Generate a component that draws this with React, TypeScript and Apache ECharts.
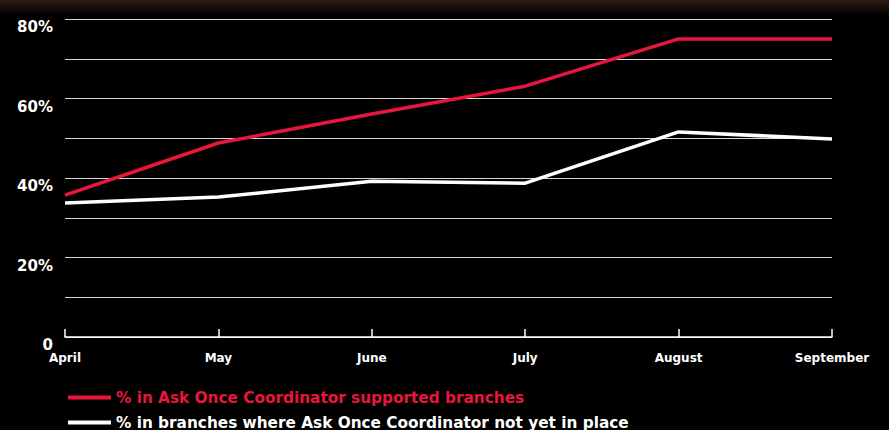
import React, { useEffect, useRef } from "react";
import * as echarts from "echarts";

const months = ["April", "May", "June", "July", "August", "September"];
const supported = [35.7, 48.8, 56.1, 63.1, 75.0, 75.0];
const notInPlace = [33.7, 35.2, 39.2, 38.7, 51.6, 49.8];
const seriesNames = [
  "% in Ask Once Coordinator supported branches",
  "% in branches where Ask Once Coordinator not yet in place",
];
const RED = "#e8163c";
const WHITE = "#ffffff";
const FONT = "DejaVu Sans";

export default function App() {
  const ref = useRef<HTMLDivElement>(null);
  useEffect(() => {
    const chart = echarts.init(ref.current!, null, { renderer: "svg" });
    const legendBase = {
      orient: "horizontal",
      left: 63,
      itemWidth: 43,
      itemHeight: 4,
      itemGap: 10,
      icon: "rect",
    };
    chart.setOption({
      animation: false,
      backgroundColor: "#000000",
      graphic: [
        {
          type: "rect",
          left: 0,
          top: 0,
          shape: { width: 889, height: 16 },
          style: {
            fill: {
              type: "linear",
              x: 0, y: 0, x2: 0, y2: 1,
              colorStops: [
                { offset: 0, color: "#2e1a14" },
                { offset: 1, color: "#000000" },
              ],
            },
          },
          z: -1,
        },
      ],
      grid: { left: 65, right: 57, top: 19, bottom: 93, containLabel: false },
      xAxis: {
        type: "category",
        data: months,
        boundaryGap: false,
        axisLine: { lineStyle: { color: "#ffffff", width: 1.5 } },
        axisTick: { inside: true, length: 8, lineStyle: { color: "#ffffff", width: 1.5 } },
        axisLabel: {
          color: "#ffffff",
          fontFamily: FONT,
          fontWeight: "bold",
          fontSize: 12,
          margin: 15,
        },
        splitLine: { show: false },
      },
      yAxis: {
        type: "value",
        min: 0,
        max: 80,
        interval: 10,
        axisLine: { show: false },
        axisTick: { show: false },
        axisLabel: {
          color: "#ffffff",
          fontFamily: FONT,
          fontWeight: "bold",
          fontSize: 15,
          margin: 12,
          verticalAlign: "top",
          lineHeight: 16,
          formatter: (v: number) => (v % 20 === 0 ? (v === 0 ? "0" : v + "%") : ""),
        },
        splitLine: { lineStyle: { color: "#d8d8d8", width: 1 } },
      },
      legend: [
        {
          ...legendBase,
          top: 385,
          textStyle: { fontFamily: FONT, fontWeight: "bold", fontSize: 15.3, color: RED },
          data: [seriesNames[0]],
        },
        {
          ...legendBase,
          top: 410,
          textStyle: { fontFamily: FONT, fontWeight: "bold", fontSize: 15.3, color: WHITE },
          data: [seriesNames[1]],
        },
      ],
      series: [
        {
          name: seriesNames[1],
          type: "line",
          data: notInPlace,
          symbol: "none",
          lineStyle: { color: WHITE, width: 3.5 },
          itemStyle: { color: WHITE },
        },
        {
          name: seriesNames[0],
          type: "line",
          data: supported,
          symbol: "none",
          lineStyle: { color: RED, width: 3.5 },
          itemStyle: { color: RED },
        },
      ],
    });
    return () => chart.dispose();
  }, []);
  return (
    <div
      ref={ref}
      style={{ position: "absolute", left: 0, top: 0, width: 889, height: 430 }}
    />
  );
}
